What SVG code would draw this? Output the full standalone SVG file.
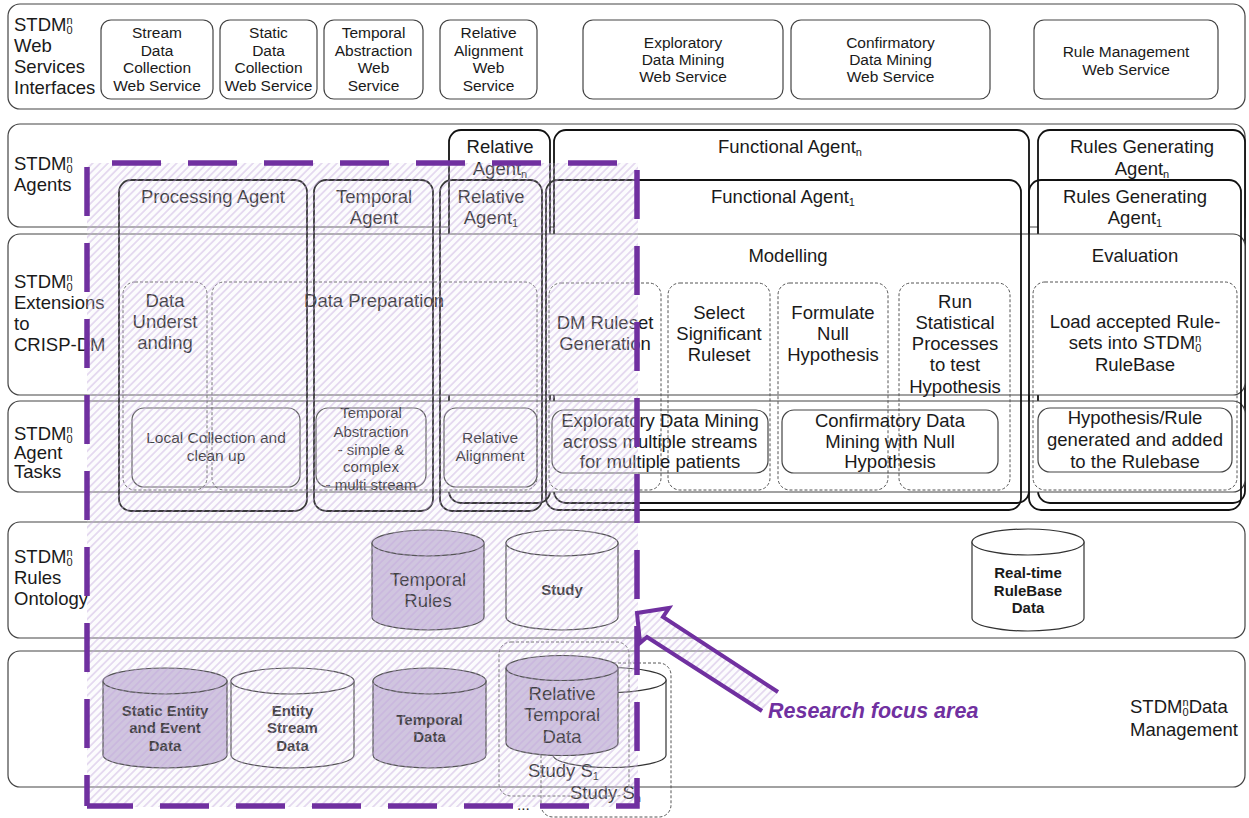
<svg xmlns="http://www.w3.org/2000/svg" width="1249" height="818" viewBox="0 0 1249 818">
<defs>
<style>
text{font-family:"Liberation Sans",Arial,sans-serif;fill:#1a1a1a}
.l{font-size:18.5px}
.m{font-size:15.5px}
.k{font-size:15px}
.c{text-anchor:middle}
.b{font-weight:bold}
.s{font-size:11px}
.row{fill:#fff;stroke:#444;stroke-width:1.2}
.ws{fill:#fff;stroke:#444;stroke-width:1.2}
.agb{fill:#fff;stroke:#111;stroke-width:1.8}
.ag{fill:none;stroke:#111;stroke-width:1.8}
.dot{fill:none;stroke:#555;stroke-width:1;stroke-dasharray:3 2}
.task{fill:none;stroke:#444;stroke-width:1.2}
.cylP{fill:#c9bcdb;stroke:#333;stroke-width:1.2}
.cylW{fill:#fff;stroke:#333;stroke-width:1.2}
.pd{fill:none;stroke:#7030a0;stroke-width:5.5}
</style>
<pattern id="hatch" width="5.4" height="5.4" patternUnits="userSpaceOnUse" patternTransform="rotate(45)">
<rect width="5.4" height="5.4" fill="#f1edf6" fill-opacity="0.18"/>
<line x1="2.7" y1="0" x2="2.7" y2="5.4" stroke="#c2a5de" stroke-width="1.2" stroke-opacity="0.6"/>
</pattern>
</defs>

<!-- Row 1: web services -->
<g id="row-webservices">
<rect class="row" x="8" y="4" width="1237" height="105" rx="12"/>
<text class="l" x="14" y="31">STDM<tspan class="s" dy="-7">n</tspan><tspan class="s" dx="-6" dy="10">0</tspan></text>
<text class="l" x="14" y="52">Web</text>
<text class="l" x="14" y="73">Services</text>
<text class="l" x="14" y="94">Interfaces</text>
</g>
<g id="ws-stream"><rect class="ws" x="101" y="20" width="112" height="79" rx="10"/>
<text class="m c" x="157" y="38">Stream</text><text class="m c" x="157" y="56">Data</text><text class="m c" x="157" y="73">Collection</text><text class="m c" x="157" y="91">Web Service</text></g>
<g id="ws-static"><rect class="ws" x="220" y="20" width="97" height="79" rx="10"/>
<text class="m c" x="268.5" y="38">Static</text><text class="m c" x="268.5" y="56">Data</text><text class="m c" x="268.5" y="73">Collection</text><text class="m c" x="268.5" y="91">Web Service</text></g>
<g id="ws-temporal"><rect class="ws" x="324" y="20" width="99" height="79" rx="10"/>
<text class="m c" x="373.5" y="38">Temporal</text><text class="m c" x="373.5" y="56">Abstraction</text><text class="m c" x="373.5" y="73">Web</text><text class="m c" x="373.5" y="91">Service</text></g>
<g id="ws-relative"><rect class="ws" x="440" y="20" width="97" height="79" rx="10"/>
<text class="m c" x="488.5" y="38">Relative</text><text class="m c" x="488.5" y="56">Alignment</text><text class="m c" x="488.5" y="73">Web</text><text class="m c" x="488.5" y="91">Service</text></g>
<g id="ws-exploratory"><rect class="ws" x="583" y="20" width="200" height="79" rx="10"/>
<text class="m c" x="683" y="48">Exploratory</text><text class="m c" x="683" y="65">Data Mining</text><text class="m c" x="683" y="82">Web Service</text></g>
<g id="ws-confirmatory"><rect class="ws" x="791" y="20" width="199" height="79" rx="10"/>
<text class="m c" x="890.5" y="48">Confirmatory</text><text class="m c" x="890.5" y="65">Data Mining</text><text class="m c" x="890.5" y="82">Web Service</text></g>
<g id="ws-rule"><rect class="ws" x="1034" y="20" width="184" height="79" rx="10"/>
<text class="m c" x="1126" y="57">Rule Management</text><text class="m c" x="1126" y="75">Web Service</text></g>

<!-- Row 2: agents -->
<g id="row-agents">
<rect class="row" x="8" y="124" width="1237" height="103" rx="12"/>
<text class="l" x="14" y="170">STDM<tspan class="s" dy="-7">n</tspan><tspan class="s" dx="-6" dy="10">0</tspan></text>
<text class="l" x="14" y="191">Agents</text>
</g>
<g id="relative-agent-n"><rect class="agb" x="449" y="130" width="101" height="373" rx="12"/>
<text class="l c" x="500" y="153">Relative</text><text class="l c" x="500" y="175">Agent<tspan class="s" dy="3">n</tspan></text></g>
<g id="functional-agent-n"><rect class="agb" x="554" y="130" width="475" height="373" rx="12"/>
<text class="l c" x="790" y="153">Functional Agent<tspan class="s" dy="3">n</tspan></text></g>
<g id="rules-agent-n"><rect class="agb" x="1038" y="130" width="207" height="373" rx="12"/>
<text class="l c" x="1142" y="153">Rules Generating</text><text class="l c" x="1142" y="175">Agent<tspan class="s" dy="3">n</tspan></text></g>

<!-- Row 3: CRISP-DM -->
<g id="row-crisp">
<rect class="row" x="8" y="234" width="1237" height="161" rx="12"/>
<text class="l" x="14" y="288">STDM<tspan class="s" dy="-7">n</tspan><tspan class="s" dx="-6" dy="10">0</tspan></text>
<text class="l" x="14" y="309">Extensions</text>
<text class="l" x="14" y="330">to</text>
<text class="l" x="14" y="351">CRISP-DM</text>
<text class="l c" x="788" y="262">Modelling</text>
<text class="l c" x="1135" y="262">Evaluation</text>
</g>
<!-- Row 4: tasks -->
<g id="row-tasks">
<rect class="row" x="8" y="401" width="1237" height="91" rx="12"/>
<text class="l" x="14" y="440">STDM<tspan class="s" dy="-7">n</tspan><tspan class="s" dx="-6" dy="10">0</tspan></text>
<text class="l" x="14" y="459">Agent</text>
<text class="l" x="14" y="478">Tasks</text>
</g>

<g id="processing-agent"><rect class="ag" x="119" y="180" width="188" height="331" rx="12"/>
<text class="l c" x="213" y="203">Processing Agent</text></g>
<g id="temporal-agent"><rect class="ag" x="314" y="180" width="119" height="331" rx="12"/>
<text class="l c" x="374" y="203">Temporal</text><text class="l c" x="374" y="224">Agent</text></g>
<g id="relative-agent-1"><rect class="ag" x="440" y="180" width="102" height="331" rx="12"/>
<text class="l c" x="491" y="203">Relative</text><text class="l c" x="491" y="224">Agent<tspan class="s" dy="3">1</tspan></text></g>
<g id="functional-agent-1"><rect class="ag" x="546" y="180" width="475" height="330" rx="12"/>
<text class="l c" x="783" y="203">Functional Agent<tspan class="s" dy="3">1</tspan></text></g>
<g id="rules-agent-1"><rect class="ag" x="1029" y="180" width="212" height="330" rx="12"/>
<text class="l c" x="1135" y="203">Rules Generating</text><text class="l c" x="1135" y="224">Agent<tspan class="s" dy="3">1</tspan></text></g>

<g id="data-understanding"><rect class="dot" x="123" y="282" width="84" height="208" rx="12"/>
<text class="l c" x="165" y="307">Data</text><text class="l c" x="165" y="328">Underst</text><text class="l c" x="165" y="349">anding</text></g>
<g id="data-preparation"><rect class="dot" x="212" y="282" width="325" height="208" rx="12"/>
<text class="l c" x="374" y="307">Data Preparation</text></g>
<g id="dm-ruleset"><rect class="dot" x="549" y="283" width="112" height="207" rx="12"/>
<text class="l c" x="605" y="329">DM Ruleset</text><text class="l c" x="605" y="350">Generation</text></g>
<g id="select-ruleset"><rect class="dot" x="668" y="283" width="102" height="207" rx="12"/>
<text class="l c" x="719" y="319">Select</text><text class="l c" x="719" y="340">Significant</text><text class="l c" x="719" y="361">Ruleset</text></g>
<g id="formulate"><rect class="dot" x="778" y="283" width="110" height="207" rx="12"/>
<text class="l c" x="833" y="319">Formulate</text><text class="l c" x="833" y="340">Null</text><text class="l c" x="833" y="361">Hypothesis</text></g>
<g id="run-stat"><rect class="dot" x="899" y="283" width="111" height="207" rx="12"/>
<text class="l c" x="955" y="308">Run</text><text class="l c" x="955" y="329">Statistical</text><text class="l c" x="955" y="350">Processes</text><text class="l c" x="955" y="371">to test</text><text class="l c" x="955" y="393">Hypothesis</text></g>
<g id="load-rules"><rect class="dot" x="1033" y="282" width="204" height="208" rx="12"/>
<text class="l c" x="1135" y="328">Load accepted Rule-</text><text class="l c" x="1135" y="349">sets into STDM<tspan class="s" dy="-7">n</tspan><tspan class="s" dx="-6" dy="10">0</tspan></text><text class="l c" x="1135" y="371">RuleBase</text></g>

<g id="task-local"><rect class="task" x="132" y="408" width="168" height="79" rx="12"/>
<text class="m c" x="216" y="443">Local Collection and</text><text class="m c" x="216" y="461">clean up</text></g>
<g id="task-ta"><rect class="task" x="316" y="408" width="110" height="79" rx="12"/>
<text class="k c" x="371" y="418">Temporal</text><text class="k c" x="371" y="437">Abstraction</text><text class="k c" x="371" y="455">- simple &amp;</text><text class="k c" x="371" y="472">complex</text><text class="k c" x="371" y="490">- multi stream</text></g>
<g id="task-ra"><rect class="task" x="444" y="408" width="93" height="79" rx="12"/>
<text class="m c" x="490" y="443">Relative</text><text class="m c" x="490" y="461">Alignment</text></g>
<g id="task-edm"><rect class="task" x="552" y="410" width="216" height="63" rx="12"/>
<text class="l c" x="660" y="427">Exploratory Data Mining</text><text class="l c" x="660" y="448">across multiple streams</text><text class="l c" x="660" y="468">for multiple patients</text></g>
<g id="task-cdm"><rect class="task" x="782" y="410" width="216" height="63" rx="12"/>
<text class="l c" x="890" y="427">Confirmatory Data</text><text class="l c" x="890" y="448">Mining with Null</text><text class="l c" x="890" y="468">Hypothesis</text></g>
<g id="task-hyp"><rect class="task" x="1038" y="408" width="194" height="64" rx="12"/>
<text class="l c" x="1135" y="424">Hypothesis/Rule</text><text class="l c" x="1135" y="446">generated and added</text><text class="l c" x="1135" y="468">to the Rulebase</text></g>

<!-- Row 5: ontology -->
<g id="row-ontology">
<rect class="row" x="8" y="522" width="1237" height="116" rx="12"/>
<text class="l" x="14" y="563">STDM<tspan class="s" dy="-7">n</tspan><tspan class="s" dx="-6" dy="10">0</tspan></text>
<text class="l" x="14" y="584">Rules</text>
<text class="l" x="14" y="605">Ontology</text>
</g>
<g id="cyl-temporal-rules"><path class="cylP" d="M372,543 V617 A56,13 0 0 0 484,617 V543 Z"/><ellipse class="cylP" cx="428" cy="543" rx="56" ry="13"/>
<text class="l c" x="428" y="586">Temporal</text><text class="l c" x="428" y="607">Rules</text></g>
<g id="cyl-study"><path class="cylW" d="M506,543 V617 A56,13 0 0 0 618,617 V543 Z"/><ellipse class="cylW" cx="562" cy="543" rx="56" ry="13"/>
<text class="k c b" x="562" y="595">Study</text></g>
<g id="cyl-realtime"><path class="cylW" d="M972,542 V618 A56,13 0 0 0 1084,618 V542 Z"/><ellipse class="cylW" cx="1028" cy="542" rx="56" ry="13"/>
<text class="k c b" x="1028" y="578">Real-time</text><text class="k c b" x="1028" y="596">RuleBase</text><text class="k c b" x="1028" y="613">Data</text></g>

<!-- Row 6: data management -->
<g id="row-data">
<rect class="row" x="8" y="651" width="1237" height="136" rx="12"/>
<text class="l" x="1130" y="713">STDM<tspan class="s" dy="-7">n</tspan><tspan class="s" dx="-6" dy="10">0</tspan><tspan dy="-3">Data</tspan></text>
<text class="l" x="1130" y="736">Management</text>
</g>
<g id="cyl-static"><path class="cylP" d="M103,681 V755 A62,13 0 0 0 227,755 V681 Z"/><ellipse class="cylP" cx="165" cy="681" rx="62" ry="13"/>
<text class="k c b" x="165" y="716">Static Entity</text><text class="k c b" x="165" y="733">and Event</text><text class="k c b" x="165" y="751">Data</text></g>
<g id="cyl-stream"><path class="cylW" d="M231,681 V755 A61.5,13 0 0 0 354,755 V681 Z"/><ellipse class="cylW" cx="292.5" cy="681" rx="61.5" ry="13"/>
<text class="k c b" x="292.5" y="716">Entity</text><text class="k c b" x="292.5" y="733">Stream</text><text class="k c b" x="292.5" y="751">Data</text></g>
<g id="cyl-temporal-data"><path class="cylP" d="M373,681 V755 A56.5,13 0 0 0 486,755 V681 Z"/><ellipse class="cylP" cx="429.5" cy="681" rx="56.5" ry="13"/>
<text class="k c b" x="429.5" y="725">Temporal</text><text class="k c b" x="429.5" y="742">Data</text></g>
<g id="study-sn"><rect class="dot" x="541" y="663" width="130" height="154" rx="12"/>
<path class="cylW" d="M553,680 V755 A56.5,12.5 0 0 0 666,755 V680 Z"/><ellipse class="cylW" cx="609.5" cy="680" rx="56.5" ry="12.5"/>
<text class="l" x="570" y="799">Study S<tspan class="s" dy="3">n</tspan></text></g>
<g id="study-s1"><rect class="dot" x="499" y="642" width="130" height="154" rx="12"/>
<path class="cylP" d="M506,668 V743 A56,12.5 0 0 0 618,743 V668 Z"/><ellipse class="cylP" cx="562" cy="668" rx="56" ry="12.5"/>
<text class="l c" x="562" y="700">Relative</text><text class="l c" x="562" y="721">Temporal</text><text class="l c" x="562" y="743">Data</text>
<text class="l" x="528" y="777">Study S<tspan class="s" dy="3">1</tspan></text></g>
<text class="m" x="517" y="810">...</text>

<!-- Research focus area -->
<g id="focus-area">
<rect x="87" y="163" width="551" height="644" fill="url(#hatch)"/>
<path class="pd" d="M87,163 H637 V806 H87" stroke-dasharray="49 27" stroke-dashoffset="51"/>
<path class="pd" d="M87,163 V806" stroke-dasharray="49 27" stroke-dashoffset="72"/>
</g>
<g id="connectors">
<path d="M778,692 L663,617 L669,608 L637,613 L640,643 L647,637 L762,711" fill="url(#hatch)" stroke="#7030a0" stroke-width="4"/>
</g>
<g id="focus-label"><text x="768" y="718" style="font-size:21.5px;font-weight:bold;font-style:italic;fill:#7030a0">Research focus area</text></g>
</svg>
